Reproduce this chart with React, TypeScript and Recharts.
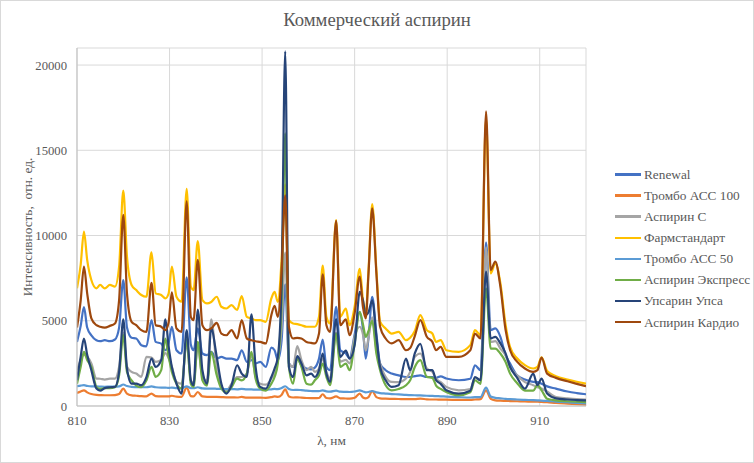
import React from 'react';
import { LineChart, Line, XAxis, YAxis, CartesianGrid, Legend } from 'recharts';

// wavelength grid, nm
const wavelengths = [
  810, 810.8, 811.5, 812.2, 813.1, 814.2, 815, 816, 817.1, 818.2,
  819.1, 820, 820.8, 821.8, 822.8, 823.9, 825, 826.1, 827, 828.2,
  829.1, 829.8, 830.5, 831.5, 832.6, 833.7, 834.6, 835.2, 836.1, 837.1,
  838.1, 839, 840.2, 841.2, 842.3, 843.4, 844.6, 845.6, 846.7, 847.7,
  848.6, 849.6, 850.8, 852, 852.7, 853.4, 854.2, 855, 855.8, 856.7,
  857.6, 858.5, 859.6, 860.6, 861.4, 862.3, 863.1, 863.9, 864.7, 866,
  866.9, 868.1, 868.9, 870, 871.1, 871.8, 872.4, 873, 873.8, 874.7,
  875.5, 876.7, 878, 879.5, 881.1, 882, 883, 884.2, 885.6, 886.8,
  887.6, 888.6, 889.8, 892.5, 895, 896, 897.2, 898.4, 899.4, 900.4,
  901.5, 902.6, 903.6, 905.1, 906.8, 908.6, 909.5, 910.4, 911.6, 913.5,
  916, 918, 920,
];

const renewal = [
  3760, 4700, 5800, 4600, 4150, 3860, 3800, 3860, 3800, 3900,
  4600, 7390, 4600, 4000, 3960, 3570, 3500, 5040, 3760, 3660,
  3270, 3700, 4650, 3270, 3080, 7550, 3600, 3270, 4550, 3080,
  2980, 3170, 2780, 2880, 2780, 2780, 2690, 3270, 2590, 2690,
  2500, 2590, 2290, 3430, 3270, 2690, 3800, 7140, 2500, 2290,
  2800, 2390, 2200, 2150, 2250, 2780, 3900, 2290, 2100, 5820,
  3270, 3080, 2800, 4200, 5500, 4500, 2780, 4000, 6410, 4250,
  2490, 2100, 1900, 1800, 1700, 1700, 1750, 1800, 1700, 1700,
  1650, 1740, 1610, 1510, 1600, 2390, 2100, 9600, 4450, 4550,
  4060, 3000, 2490, 1800, 1550, 1410, 1400, 1310, 1150, 1020,
  850, 760, 690,
];

const tromboAcc100 = [
  760, 850, 920, 800, 700, 650, 640, 630, 630, 640,
  700, 1020, 720, 620, 600, 580, 570, 730, 580, 560,
  560, 560, 600, 550, 540, 1080, 580, 560, 820, 560,
  540, 540, 530, 520, 510, 510, 500, 530, 490, 490,
  490, 490, 480, 520, 560, 540, 650, 980, 560, 500,
  510, 490, 470, 460, 460, 470, 690, 470, 450, 560,
  450, 440, 430, 480, 730, 500, 450, 520, 880, 520,
  450, 430, 420, 410, 400, 400, 400, 430, 390, 380,
  380, 370, 370, 360, 360, 380, 400, 920, 420, 330,
  310, 300, 290, 280, 270, 250, 250, 240, 220, 180,
  140, 110, 80,
];

const aspirinC = [
  2100, 2700, 3000, 2900, 2490, 1610, 1600, 1550, 1600, 1600,
  2300, 4300, 2300, 2000, 1900, 1710, 2880, 2840, 2590, 2700,
  3100, 2800, 2300, 1410, 1310, 3700, 1500, 1350, 3500, 1700,
  1500, 5080, 2300, 1120, 920, 1310, 1700, 1700, 1900, 3000,
  1700, 1310, 1250, 1600, 1900, 2700, 4500, 9000, 2500, 2290,
  3510, 2690, 2100, 2290, 2000, 2200, 2800, 2000, 1600, 4300,
  2600, 2700, 2500, 4060, 4650, 4200, 3270, 4000, 5200, 3300,
  2490, 1710, 1410, 1400, 1610, 2000, 2880, 3080, 2200, 2000,
  1600, 1400, 1120, 920, 1000, 1650, 1500, 9300, 3760, 3800,
  3370, 2980, 2300, 1800, 1400, 1220, 1100, 1020, 850, 530,
  450, 400, 370,
];

const farmstandart = [
  6900, 8300, 10230, 8570, 7390, 6900, 7100, 6900, 7100, 7000,
  8170, 12640, 8760, 7100, 6800, 6510, 6410, 9020, 6610, 6510,
  6310, 6600, 8170, 6410, 6120, 12740, 7000, 6800, 9680, 6210,
  6020, 6100, 6410, 5820, 5720, 5920, 5630, 6450, 5230, 5140,
  5040, 5040, 4940, 6310, 6700, 6100, 8500, 13000, 5040, 4840,
  4800, 4740, 4650, 4650, 4650, 5230, 8230, 5230, 4840, 10900,
  5230, 5720, 4740, 5820, 8040, 6200, 5430, 7980, 11840, 7980,
  4940, 4550, 4250, 4350, 3860, 4000, 4400, 5330, 4450, 4250,
  3760, 3860, 3270, 3180, 3570, 4450, 4150, 16900, 7780, 8370,
  7200, 4800, 3450, 2800, 2400, 2200, 2300, 2850, 2050, 1750,
  1550, 1420, 1310,
];

const tromboAcc50 = [
  1160, 1200, 1220, 1180, 1150, 1150, 1140, 1130, 1140, 1140,
  1150, 1260, 1170, 1120, 1110, 1100, 1100, 1150, 1100, 1080,
  1080, 1060, 1080, 1050, 1040, 1150, 1050, 1040, 1100, 1030,
  1020, 1020, 1010, 1000, 990, 990, 980, 1000, 970, 970,
  960, 960, 950, 980, 1000, 990, 1050, 1160, 1000, 940,
  950, 930, 900, 880, 870, 870, 920, 860, 840, 900,
  840, 830, 820, 850, 920, 850, 800, 820, 880, 800,
  760, 730, 700, 680, 650, 640, 630, 620, 600, 590,
  580, 570, 550, 520, 500, 520, 520, 1080, 560, 480,
  450, 420, 400, 380, 360, 340, 330, 320, 300, 260,
  220, 180, 150,
];

const aspirinExpress = [
  1310, 2300, 3180, 2700, 2290, 1120, 1000, 1050, 1050, 1100,
  1800, 4160, 2000, 1500, 1200, 1100, 1500, 2290, 1710, 2100,
  3960, 2900, 2000, 1310, 1020, 3900, 1300, 1120, 3760, 1510,
  1200, 3180, 1800, 1020, 800, 1100, 1610, 1500, 1900, 3180,
  1600, 1020, 900, 1310, 1700, 2500, 6000, 16000, 2300, 1310,
  2780, 2290, 1310, 1250, 1510, 1800, 2490, 1710, 1220, 4250,
  2290, 2490, 2100, 3670, 5530, 4800, 4060, 4400, 5000, 3080,
  2100, 1220, 920, 1000, 1220, 1510, 2290, 2690, 1710, 1650,
  1200, 1000, 820, 630, 800, 1510, 1300, 6900, 3370, 3370,
  3080, 2600, 1900, 1350, 900, 900, 1220, 920, 430, 330,
  280, 250, 230,
];

const upsarinUpsa = [
  1510, 2900, 3960, 3000, 2100, 1020, 900, 1050, 1100, 1120,
  2000, 5080, 2200, 1310, 1310, 1220, 1700, 2780, 2290, 2690,
  5080, 3500, 2290, 1310, 730, 4450, 1500, 1220, 5660, 2100,
  1310, 4550, 2880, 1310, 730, 1220, 2390, 1900, 1700, 5370,
  2300, 1120, 1020, 1700, 2200, 2880, 7000, 20800, 2290, 1700,
  2920, 2490, 1800, 1900, 1700, 2100, 3080, 1900, 1410, 5100,
  2880, 3250, 2780, 3570, 6700, 6200, 5330, 5500, 6200, 4060,
  2290, 1510, 1120, 1220, 2780, 2100, 3080, 3650, 2100, 2100,
  1510, 1300, 920, 730, 900, 1700, 1510, 7880, 3960, 4060,
  3670, 3100, 2290, 1670, 1020, 1900, 1220, 1610, 730, 450,
  380, 350, 330,
];

const aspirinCardio = [
  4600, 6200, 8170, 6610, 5140, 4740, 4650, 4600, 4700, 4840,
  6210, 11210, 6610, 4940, 4740, 4450, 4350, 7230, 4740, 4650,
  4450, 4900, 6660, 4550, 4350, 12000, 5230, 5040, 8570, 4740,
  4450, 4550, 4880, 4250, 4150, 4450, 3960, 5040, 3960, 3860,
  3800, 3760, 3670, 5330, 5880, 5230, 7780, 12350, 4650, 3960,
  4000, 3960, 3760, 3700, 3670, 4250, 7720, 4740, 4350, 10860,
  4740, 5080, 4150, 5430, 7590, 5800, 5140, 7780, 11600, 7780,
  4650, 3960, 3670, 3860, 3270, 3400, 4100, 5040, 4060, 3760,
  3270, 3470, 2880, 2880, 3270, 4250, 3960, 17290, 7980, 8470,
  7000, 4500, 3270, 2600, 2200, 2000, 2100, 2840, 1900, 1650,
  1450, 1300, 1160,
];

const xTicks = [810, 830, 850, 870, 890, 910];
const yTicks = [0, 5000, 10000, 15000, 20000];

const series = [
  { key: 'renewal', name: 'Renewal', color: '#4472C4', values: renewal },
  { key: 'tromboAcc100', name: 'Тромбо АСС 100', color: '#ED7D31', values: tromboAcc100 },
  { key: 'aspirinC', name: 'Аспирин С', color: '#A5A5A5', values: aspirinC },
  { key: 'farmstandart', name: 'Фармстандарт', color: '#FFC000', values: farmstandart },
  { key: 'tromboAcc50', name: 'Тромбо АСС 50', color: '#5B9BD5', values: tromboAcc50 },
  { key: 'aspirinExpress', name: 'Аспирин Экспресс', color: '#70AD47', values: aspirinExpress },
  { key: 'upsarinUpsa', name: 'Упсарин Упса', color: '#264478', values: upsarinUpsa },
  { key: 'aspirinCardio', name: 'Аспирин Кардио', color: '#9E480E', values: aspirinCardio },
];

const data = wavelengths.map((nm, i) => {
  const row: Record<string, number> = { nm };
  series.forEach((s) => {
    row[s.key] = s.values[i];
  });
  return row;
});

const FONT = '"Liberation Serif", "Times New Roman", serif';
const TEXT = '#595959';

// legend keeps the series order (recharts would sort it by name)
const LegendContent = () => (
  <div style={{ fontFamily: FONT, fontSize: 13.3, color: TEXT, lineHeight: 1 }}>
    {series.map((s) => (
      <div key={s.key} style={{ display: 'flex', alignItems: 'center', height: 21.1 }}>
        <span style={{ width: 26, height: 2.5, background: s.color, marginRight: 3 }} />
        <span>{s.name}</span>
      </div>
    ))}
  </div>
);

const App = () => {
  return (
    <div
      style={{
        position: 'relative',
        width: 754,
        height: 463,
        boxSizing: 'border-box',
        border: '1px solid #d9d9d9',
        background: '#fff',
      }}
    >
      <style>{'body{margin:0}'}</style>
      <div
        style={{
          position: 'absolute',
          top: 8,
          left: 0,
          width: 752,
          textAlign: 'center',
          fontFamily: FONT,
          fontSize: 18.7,
          color: TEXT,
        }}
      >
        Коммерческий аспирин
      </div>
      <LineChart
        width={752}
        height={461}
        data={data}
        margin={{ top: 47, right: 167, left: 0, bottom: 0 }}
      >
        <CartesianGrid stroke="#d9d9d9" />
        <XAxis
          dataKey="nm"
          type="number"
          domain={[810, 920]}
          ticks={xTicks}
          allowDataOverflow
          height={56}
          stroke="#bfbfbf"
          tickLine={false}
          tickSize={0}
          tickMargin={10}
          tick={{ fill: TEXT, fontSize: 12.7, fontFamily: FONT }}
          label={{
            content: ({ viewBox }: any) => (
              <text
                x={viewBox.x + viewBox.width / 2}
                y={viewBox.y + 39}
                textAnchor="middle"
                fill={TEXT}
                fontSize={13.3}
                fontFamily={FONT}
              >
                λ, нм
              </text>
            ),
          }}
        />
        <YAxis
          type="number"
          domain={[0, 21000]}
          ticks={yTicks}
          allowDataOverflow
          width={76}
          stroke="#bfbfbf"
          tickLine={false}
          tickSize={0}
          tickMargin={10}
          tick={{ fill: TEXT, fontSize: 12.7, fontFamily: FONT }}
          label={{
            content: ({ viewBox }: any) => {
              const cx = viewBox.x + 31;
              const cy = viewBox.y + viewBox.height / 2;
              return (
                <text
                  x={cx}
                  y={cy}
                  transform={`rotate(-90 ${cx} ${cy})`}
                  textAnchor="middle"
                  fill={TEXT}
                  fontSize={13.3}
                  fontFamily={FONT}
                  style={{ whiteSpace: 'pre' }}
                >
                  Интенсивность,  отн. ед.
                </text>
              );
            },
          }}
        />
        <Legend
          layout="vertical"
          align="center"
          verticalAlign="middle"
          content={<LegendContent />}
          wrapperStyle={{ left: 614, top: 163, width: 140 }}
        />
        {series.map((s) => (
          <Line
            key={s.key}
            dataKey={s.key}
            name={s.name}
            type="monotone"
            stroke={s.color}
            strokeWidth={2.2}
            dot={false}
            activeDot={false}
            isAnimationActive={false}
          />
        ))}
      </LineChart>
    </div>
  );
};

export default App;
